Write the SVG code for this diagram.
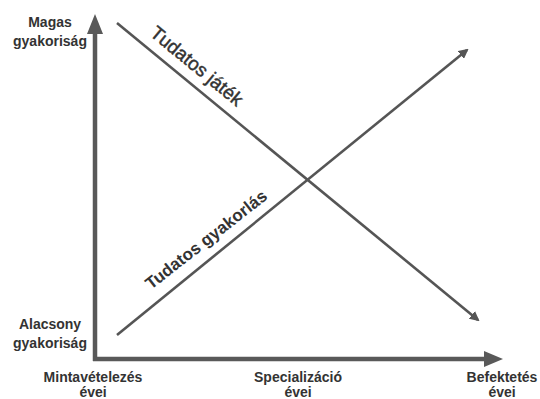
<svg xmlns="http://www.w3.org/2000/svg" width="540" height="399" viewBox="0 0 540 399">
<defs>
<style>
.lbl{font-family:"Liberation Sans",Arial,sans-serif;font-weight:bold;font-size:14px;fill:#333;text-anchor:middle}
.axis{stroke:#595959;stroke-width:4.5;fill:none}
.ln{stroke:#555;stroke-width:2.6;fill:none}
.ltxt{font-family:"Liberation Sans",Arial,sans-serif;fill:#333}
</style>
<marker id="ah" markerWidth="10" markerHeight="10" refX="8" refY="5" orient="auto" markerUnits="userSpaceOnUse" viewBox="0 0 10 10">
<path d="M0,0 L10,5 L0,10 z" fill="#555"/>
</marker>
</defs>
<rect width="540" height="399" fill="#fff"/>
<g id="axes">
<path class="axis" d="M95,361 L95,34"/>
<path d="M87,34 L95,14 L103,34 z" fill="#595959"/>
<path class="axis" d="M93,359 L484,359"/>
<path d="M484,351 L503,359 L484,367 z" fill="#595959"/>
</g>
<g id="connectors">
<line class="ln" x1="117" y1="23" x2="478" y2="320" marker-end="url(#ah)"/>
<line class="ln" x1="117" y1="335" x2="467" y2="50" marker-end="url(#ah)"/>
</g>
<g id="label-tudatos-jatek">
<text class="ltxt" style="font-size:19px;stroke:#333;stroke-width:0.45" transform="translate(149,35) rotate(39.4)">Tudatos játék</text>
</g>
<g id="label-tudatos-gyakorlas">
<text class="ltxt" style="font-size:17px;font-weight:bold" transform="translate(151,290) rotate(-38)">Tudatos gyakorlás</text>
</g>
<g id="y-high"><text class="lbl" x="50" y="27">Magas</text><text class="lbl" x="50" y="46">gyakoriság</text></g>
<g id="y-low"><text class="lbl" x="50" y="329">Alacsony</text><text class="lbl" x="50" y="348">gyakoriság</text></g>
<g id="x-start"><text class="lbl" x="93" y="382">Mintavételezés</text><text class="lbl" x="93" y="397">évei</text></g>
<g id="x-mid"><text class="lbl" x="298" y="382">Specializáció</text><text class="lbl" x="298" y="397">évei</text></g>
<g id="x-end"><text class="lbl" x="502" y="382">Befektetés</text><text class="lbl" x="502" y="397">évei</text></g>
</svg>
